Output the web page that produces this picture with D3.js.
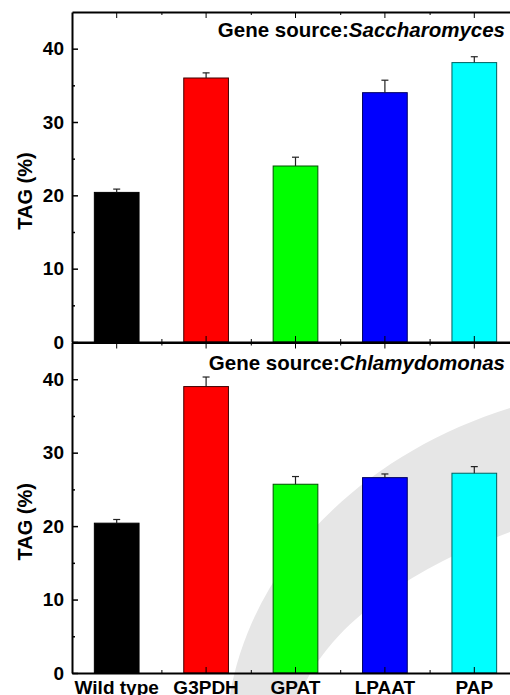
<!DOCTYPE html>
<html>
<head>
<meta charset="utf-8">
<script src="https://cdn.jsdelivr.net/npm/d3@7/dist/d3.min.js"></script>
<style>
  html, body { margin: 0; padding: 0; background: #fff; }
  svg { display: block; }
  text { font-family: "Liberation Sans", Arial, sans-serif; font-weight: bold; fill: #000; }
</style>
</head>
<body>
<svg id="chart" width="510" height="695"></svg>
<script>
// ---- data ----
const categories = ["Wild type", "G3PDH", "GPAT", "LPAAT", "PAP"];
const saccharomycesValues = [20.4, 36.0, 24.0, 34.0, 38.1];
const saccharomycesErrors = [0.45, 0.7, 1.2, 1.7, 0.8];
const chlamydomonasValues = [20.4, 39.0, 25.7, 26.6, 27.2];
const chlamydomonasErrors = [0.5, 1.3, 1.05, 0.5, 0.9];
const yTickValues = [0, 10, 20, 30, 40];
const yMinorTickValues = [5, 15, 25, 35];
const panelSources = ["Saccharomyces", "Chlamydomonas"];
const barFills = ["#000000", "#ff0000", "#00ff00", "#0000ff", "#00ffff"];
const barStrokes = ["#000000", "#400000", "#005000", "#000060", "#006060"];

// ---- layout ----
const svg = d3.select("#chart");
const left = 72, right = 519;
const panels = [
  { top: 12, bottom: 342, titleY: 37, values: saccharomycesValues, errors: saccharomycesErrors, source: panelSources[0] },
  { top: 342.5, bottom: 673, titleY: 370, values: chlamydomonasValues, errors: chlamydomonasErrors, source: panelSources[1] }
];

const x = d3.scaleBand().domain(categories).range([left, right]).paddingInner(0.5).paddingOuter(0.25);
const step = x.step();
const xMinor = d3.range(1, categories.length).map(i => left + i * step);
const idScale = d3.scaleLinear().domain([left, right]).range([left, right]);

// watermark band (decorative, behind everything)
svg.append("path")
  .attr("d", "M230,695 C252,565 360,455 510,408 L510,532 C420,565 330,620 300,695 Z")
  .attr("fill", "#e6e6e6");

const font = "'Liberation Sans', Arial, sans-serif";

panels.forEach((p, pi) => {
  const y = d3.scaleLinear().domain([0, 45]).range([p.bottom, p.top]);
  const g = svg.append("g");

  // bars
  g.selectAll("rect.bar").data(categories).join("rect")
    .attr("class", "bar")
    .attr("x", d => x(d))
    .attr("width", x.bandwidth())
    .attr("y", (d, i) => y(p.values[i]))
    .attr("height", (d, i) => y(0) - y(p.values[i]))
    .attr("fill", (d, i) => barFills[i])
    .attr("stroke", (d, i) => barStrokes[i])
    .attr("stroke-width", 1);

  // error bars (upper only)
  const cx = d => x(d) + x.bandwidth() / 2;
  g.selectAll("line.err").data(categories).join("line")
    .attr("x1", cx).attr("x2", cx)
    .attr("y1", (d, i) => y(p.values[i]))
    .attr("y2", (d, i) => y(p.values[i] + p.errors[i]))
    .attr("stroke", "#222").attr("stroke-width", 1.2);
  g.selectAll("line.cap").data(categories).join("line")
    .attr("x1", d => cx(d) - 3.5).attr("x2", d => cx(d) + 3.5)
    .attr("y1", (d, i) => y(p.values[i] + p.errors[i]))
    .attr("y2", (d, i) => y(p.values[i] + p.errors[i]))
    .attr("stroke", "#222").attr("stroke-width", 1.2);

  // y axis
  const yAxis = d3.axisLeft(y).tickValues(yTickValues).tickSize(-6).tickSizeOuter(0).tickPadding(8);
  const ya = g.append("g").attr("transform", `translate(${left},0)`).call(yAxis);
  ya.select(".domain").attr("stroke-width", 2);
  ya.selectAll(".tick line").attr("stroke-width", 1.5);
  ya.selectAll(".tick text").style("font-size", "19px").style("font-family", font).style("font-weight", "bold");
  const ym = g.append("g").attr("transform", `translate(${left},0)`)
    .call(d3.axisLeft(y).tickValues(yMinorTickValues).tickSize(-3).tickFormat("").tickSizeOuter(0));
  ym.select(".domain").remove();
  ym.selectAll(".tick line").attr("stroke-width", 1.5);

  // bottom x axis
  const xb = g.append("g").attr("transform", `translate(0,${p.bottom})`)
    .call(d3.axisBottom(x).tickSize(-6).tickSizeOuter(0).tickFormat(pi === 1 ? (d => d) : ""));
  xb.select(".domain").attr("stroke-width", 2);
  xb.selectAll(".tick text").style("font-size", "19px").attr("y", 20.5).attr("dy", 0)
    .style("font-family", font).style("font-weight", "bold");
  const xbm = g.append("g").attr("transform", `translate(0,${p.bottom})`)
    .call(d3.axisBottom(idScale).tickValues(xMinor).tickSize(-3).tickFormat("").tickSizeOuter(0));
  xbm.select(".domain").remove();

  // top x axis
  const xt = g.append("g").attr("transform", `translate(0,${p.top})`)
    .call(d3.axisTop(x).tickSize(-6).tickSizeOuter(0).tickFormat(""));
  xt.select(".domain").attr("stroke-width", 2);
  const xtm = g.append("g").attr("transform", `translate(0,${p.top})`)
    .call(d3.axisTop(idScale).tickValues(xMinor).tickSize(-3).tickFormat("").tickSizeOuter(0));
  xtm.select(".domain").remove();

  // y label
  const midY = (p.top + p.bottom) / 2 + 14;
  g.append("text")
    .attr("transform", `translate(32,${midY}) rotate(-90)`)
    .attr("text-anchor", "middle")
    .style("font-size", "20px")
    .text("TAG (%)");

  // panel title
  const t = g.append("text")
    .attr("x", 505).attr("y", p.titleY)
    .attr("text-anchor", "end")
    .style("font-size", "20.5px");
  t.append("tspan").text("Gene source:");
  t.append("tspan").style("font-style", "italic").text(p.source);
});
</script>
</body>
</html>
